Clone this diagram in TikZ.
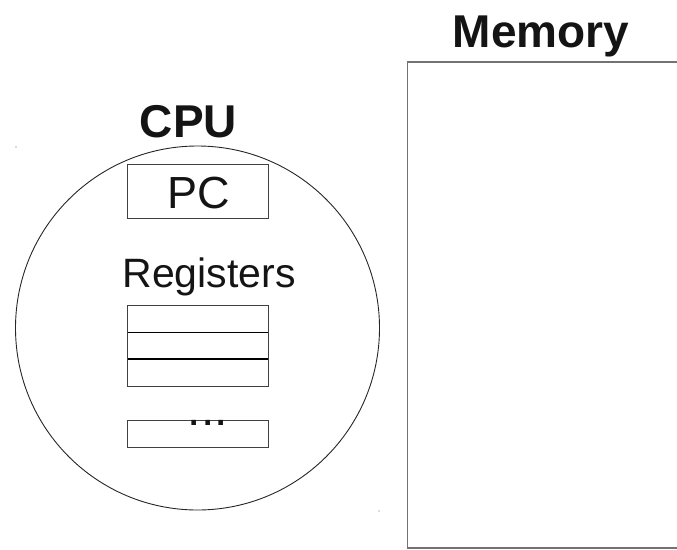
\documentclass[tikz,border=0pt]{standalone}
\usepackage{fontspec}
\setmainfont{Liberation Sans}
\begin{document}
\begin{tikzpicture}[x=1pt,y=-1pt,
  title/.style={font=\fontsize{46}{46}\selectfont\bfseries, text=black!92, inner sep=0pt, anchor=base},
  label/.style={font=\fontsize{#1}{#1}\selectfont, text=black!92, inner sep=0pt, anchor=base},
  boxline/.style={draw=black!75, line width=1pt},
  memline/.style={draw=black!55, line width=1.6pt}]
\useasboundingbox (0,0) rectangle (677,549);
% titles
\node[title] (cputitle) at (188.5,137) {CPU};
\node[title] (memtitle) at (541,47) {Memory};
% CPU circle
\draw[line width=0.9pt, black!85] (197.5,328) circle (182);
% PC box
\draw[boxline] (127.5,164.5) rectangle (268,218);
\node[label=45] (pc) at (198.5,208.5) {PC};
% Registers
\node[label=41] (regs) at (209,287.5) {Registers};
\draw[boxline] (127.5,305.5) rectangle (268,386.5);
\draw[black, line width=1.5pt] (127.5,332.5) -- (268,332.5);
\draw[black, line width=1.5pt] (127.5,359) -- (268,359);
% dots box
\draw[boxline] (127.5,420.5) rectangle (268,447.5);
\node[label=48] (dots) at (208,425.5) {...};
% Memory box (open on the right)
\draw[memline] (677,62) -- (407.5,62) -- (407.5,548) -- (677,548);
% tiny marks
\fill[black!60] (16,147) circle (0.6);
\fill[black!60] (379,511) circle (0.6);
\end{tikzpicture}
\end{document}
